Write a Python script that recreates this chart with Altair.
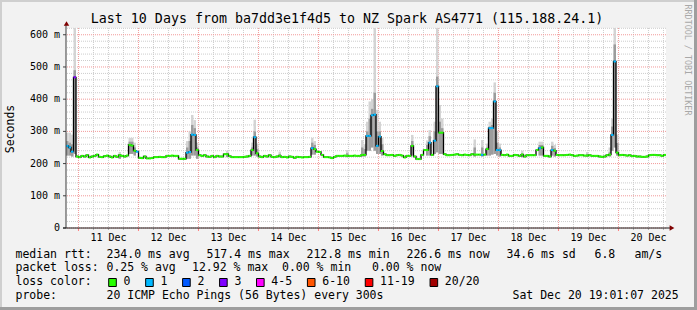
import altair as alt
import pandas as pd

FONT = "DejaVu Sans Mono"

# ---------------- text ----------------
title_text = "Last 10 Days from ba7dd3e1f4d5 to NZ Spark AS4771 (115.188.24.1)"
y_title = "Seconds"
watermark = "RRDTOOL / TOBI OETIKER"
start_time = "2025-12-10 19:01:07"
first_midnight = "2025-12-11 00:00:00"
day_labels = ["11 Dec", "12 Dec", "13 Dec", "14 Dec", "15 Dec",
              "16 Dec", "17 Dec", "18 Dec", "19 Dec", "20 Dec"]

y_ticks = [0, 100, 200, 300, 400, 500, 600]
y_tick_labels = ["0", "100 m", "200 m", "300 m", "400 m", "500 m", "600 m"]
y_max = 621
hours_total = 240

# ---------------- median rtt (ms), one value per hour, one row per 24 h ----------------
median_rows = [
    [255, 250, 237, 468, 222, 220, 224, 222, 226, 219, 222, 224, 228, 221, 220, 223, 225, 222, 219, 224, 221, 226, 224, 222],
    [225, 258, 256, 240, 237, 218, 217, 222, 216, 216, 217, 220, 220, 221, 220, 220, 224, 224, 225, 224, 224, 215, 215, 215],
    [234, 236, 290, 289, 242, 226, 224, 226, 222, 221, 224, 220, 224, 222, 222, 229, 229, 223, 220, 220, 220, 220, 220, 221],
    [222, 224, 242, 282, 232, 222, 220, 224, 222, 226, 221, 220, 222, 224, 220, 221, 219, 222, 221, 218, 221, 220, 219, 220],
    [220, 221, 248, 245, 237, 236, 227, 220, 220, 219, 217, 221, 224, 224, 224, 225, 224, 224, 224, 225, 224, 224, 227, 227],
    [286, 286, 350, 352, 255, 284, 239, 229, 226, 226, 227, 224, 226, 227, 225, 219, 224, 224, 255, 222, 214, 214, 227, 242],
    [242, 265, 227, 271, 440, 296, 296, 229, 226, 226, 227, 228, 229, 227, 226, 228, 227, 226, 229, 228, 228, 228, 227, 228],
    [245, 310, 310, 393, 242, 242, 227, 226, 228, 224, 224, 227, 226, 224, 228, 222, 226, 226, 226, 226, 242, 248, 250, 224],
    [224, 222, 242, 240, 227, 226, 226, 226, 227, 228, 226, 224, 225, 226, 226, 225, 225, 226, 224, 224, 224, 222, 221, 222],
    [226, 228, 289, 517, 234, 226, 227, 226, 225, 226, 223, 224, 222, 222, 221, 221, 222, 226, 227, 227, 226, 226, 224, 227],
]

# lost pings (of 20) per hour
loss_rows = [
    "111300000000000000000000",
    "000010000000000000000000",
    "111100000000000000000000",
    "000100000000000000000000",
    "001000000000000000000000",
    "111111000000000000000000",
    "010110000000000000000010",
    "011111000000000000000100",
    "001000000000000000000000",
    "001100000000000000000000",
]

# smoke (spread of the 20 pings) where visible
smoke_hour = [0, 1, 2, 3, 21, 25, 26, 27, 48, 49, 50, 51, 52, 64, 74, 75, 76, 85, 98, 99,
              112, 118, 119, 120, 121, 122, 123, 124, 125, 126, 138, 144, 145, 147, 148, 149, 150,
              163, 166, 168, 169, 170, 171, 172, 173, 182, 189, 190, 194, 195, 208, 217, 218, 219, 220]
smoke_lo = [225, 225, 222, 230, 215, 230, 230, 225, 215, 215, 225, 225, 215, 220, 225, 225, 222, 220, 228, 228,
            220, 222, 222, 240, 240, 250, 240, 230, 230, 225, 225, 225, 225, 230, 235, 230, 230,
            222, 222, 225, 225, 228, 230, 225, 222, 220, 225, 225, 225, 222, 222, 222, 240, 250, 225]
smoke_dark = [270, 265, 260, 490, 228, 268, 268, 250, 250, 270, 320, 310, 250, 232, 250, 300, 245, 230, 265, 258,
              232, 250, 245, 300, 340, 370, 420, 300, 300, 260, 270, 258, 285, 300, 470, 330, 310,
              250, 250, 250, 315, 320, 420, 265, 250, 232, 258, 258, 255, 248, 230, 235, 315, 570, 264]
smoke_hi = [296, 296, 290, 621, 236, 280, 280, 265, 270, 300, 351, 335, 265, 240, 265, 336, 262, 237, 280, 270,
            242, 273, 260, 330, 393, 400, 621, 367, 330, 280, 289, 272, 304, 330, 621, 382, 340,
            275, 273, 262, 330, 340, 452, 300, 262, 240, 268, 268, 268, 258, 236, 250, 340, 621, 290]

# ---------------- legend ----------------
loss_labels = ["0", "1", "2", "3", "4-5", "6-10", "11-19", "20/20"]
loss_upper = [0, 1, 2, 3, 5, 10, 19, 20]
loss_colors = ["#26ff00", "#00b8ff", "#0059ff", "#7e00ff", "#ff00ff", "#ff5500", "#ff0000", "#a10000"]

rtt_stats = ["median rtt:", "234.0 ms avg", "517.4 ms max", "212.8 ms min", "226.6 ms now",
             "34.6 ms sd", "6.8", "am/s"]
pl_stats = ["packet loss:", "0.25 % avg", "12.92 % max", "0.00 % min", "0.00 % now"]
loss_title = "loss color:"
probe_stats = ["probe:", "20 ICMP Echo Pings (56 Bytes) every 300s", "Sat Dec 20 19:01:07 2025"]

# ---------------- layout (page pixels) ----------------
PL, PT, W, H = 66, 28, 600, 200
PAGE_W, PAGE_H = 697, 310
rtt_x = [16, 107, 207, 307, 407, 507, 595, 635]
pl_x = [16, 107, 192.5, 282.5, 372.5]
probe_x = [16, 107, 513]
row_y = [254.5, 268, 282, 296]
box_x0, char_w = 108.7, 6.96

# ---------------- frames ----------------
median = [v for row in median_rows for v in row]
loss = [int(c) for c in "".join(loss_rows)]
n = len(median)


def loss_index(k):
    for i, u in enumerate(loss_upper):
        if k <= u:
            return i
    return len(loss_upper) - 1


df = pd.DataFrame({"h": list(range(n)), "h2": list(range(1, n + 1)), "med": median,
                   "col": [loss_colors[loss_index(k)] for k in loss]})
df_line = pd.concat([df[["h", "med"]], pd.DataFrame({"h": [n], "med": [median[-1]]})], ignore_index=True)
df_smoke = pd.DataFrame({"h": smoke_hour, "h2": [h + 1 for h in smoke_hour],
                         "lo": smoke_lo, "dark": smoke_dark, "hi": smoke_hi})

mid_off = (pd.Timestamp(first_midnight) - pd.Timestamp(start_time)) / pd.Timedelta(hours=1)
vg = []
k = 0
while mid_off + 6 * k <= hours_total:
    vg.append({"h": mid_off + 6 * k, "major": k % 4 == 0})
    k += 1
df_vg = pd.DataFrame(vg)
df_hg = pd.DataFrame({"v": list(range(0, y_max, 20))})
df_hg["major"] = df_hg["v"] % 100 == 0
df_days = pd.DataFrame({"h": [mid_off + 12 + 24 * i for i in range(len(day_labels))], "t": day_labels})
df_yt = pd.DataFrame({"v": y_ticks, "t": y_tick_labels})

texts = []
for s, x in zip(rtt_stats, rtt_x):
    texts.append({"t": s, "x": x - PL - 0.5, "y": row_y[0] - PT})
for s, x in zip(pl_stats, pl_x):
    texts.append({"t": s, "x": x - PL - 0.5, "y": row_y[1] - PT})
texts.append({"t": loss_title, "x": 16 - PL - 0.5, "y": row_y[2] - PT})
for s, x in zip(probe_stats, probe_x):
    texts.append({"t": s, "x": x - PL - 0.5, "y": row_y[3] - PT})
boxes = []
bx = box_x0
for lab, colr in zip(loss_labels, loss_colors):
    boxes.append({"x": bx - PL, "x2": bx + 7.6 - PL, "y": 278.5 - PT, "y2": 286.5 - PT, "c": colr})
    texts.append({"t": lab, "x": bx + 15.3 - PL - 0.5, "y": row_y[2] - PT})
    bx += 30 + char_w * len(lab)
df_text = pd.DataFrame(texts)
df_box = pd.DataFrame(boxes)
one = pd.DataFrame({"a": [0]})

xs = alt.Scale(domain=[0, hours_total], nice=False, zero=False)
ys = alt.Scale(domain=[0, y_max], nice=False, zero=False)
X = lambda f: alt.X(f, scale=xs, axis=None)
Y = lambda f: alt.Y(f, scale=ys, axis=None)

layers = []
# grid
layers.append(alt.Chart(df_hg[~df_hg.major]).mark_rule(color="#cdcdcd", strokeDash=[1, 1], strokeWidth=1).encode(y=Y("v:Q")))
layers.append(alt.Chart(df_vg[~df_vg.major]).mark_rule(color="#cdcdcd", strokeDash=[1, 1], strokeWidth=1).encode(x=X("h:Q")))
layers.append(alt.Chart(df_hg[df_hg.major]).mark_rule(color="#f29a9a", strokeDash=[1, 1], strokeWidth=1).encode(y=Y("v:Q")))
layers.append(alt.Chart(df_vg[df_vg.major]).mark_rule(color="#f29a9a", strokeDash=[1, 1], strokeWidth=1).encode(x=X("h:Q")))
# smoke
layers.append(alt.Chart(df_smoke).mark_rect(color="#d4d4d4").encode(x=X("h:Q"), x2="h2:Q", y=Y("lo:Q"), y2="hi:Q"))
layers.append(alt.Chart(df_smoke).mark_rect(color="#9c9c9c").encode(x=X("h:Q"), x2="h2:Q", y=Y("lo:Q"), y2="dark:Q"))
# median
layers.append(alt.Chart(df_line).mark_line(interpolate="step-after", color="#000000", strokeWidth=1.3).encode(x=X("h:Q"), y=Y("med:Q")))
layers.append(alt.Chart(df).mark_rule(strokeWidth=2, strokeCap="butt").encode(
    x=X("h:Q"), x2="h2:Q", y=Y("med:Q"), color=alt.Color("col:N", scale=None)))
# axis ticks
layers.append(alt.Chart(df_vg[df_vg.major]).mark_rule(color="#ff8080").encode(x=X("h:Q"), y=alt.value(H), y2=alt.value(H + 3)))
layers.append(alt.Chart(df_vg[~df_vg.major]).mark_rule(color="#b0b0b0").encode(x=X("h:Q"), y=alt.value(H), y2=alt.value(H + 2)))
layers.append(alt.Chart(df_yt).mark_rule(color="#404040").encode(y=Y("v:Q"), x=alt.value(-3), x2=alt.value(0)))
# axis lines + arrows
layers.append(alt.Chart(one).mark_rule(color="#3a3a3a", strokeWidth=1).encode(x=alt.value(0), y=alt.value(-4), y2=alt.value(H)))
layers.append(alt.Chart(one).mark_rule(color="#1a1a1a", strokeWidth=1).encode(x=alt.value(-3), x2=alt.value(W + 5), y=alt.value(H)))
layers.append(alt.Chart(one).mark_point(shape="triangle-up", filled=True, color="#7f0000", size=30, opacity=1).encode(
    x=alt.value(0.5), y=alt.value(-4.5)))
layers.append(alt.Chart(one).mark_point(shape="triangle-right", filled=True, color="#7f0000", size=30, opacity=1).encode(
    x=alt.value(W + 6), y=alt.value(H)))
# axis labels
layers.append(alt.Chart(df_days).mark_text(font=FONT, fontSize=10, color="#000000", baseline="middle", align="center").encode(
    x=X("h:Q"), y=alt.value(238 - PT), text="t:N"))
layers.append(alt.Chart(df_yt).mark_text(font=FONT, fontSize=10, color="#000000", baseline="middle", align="right").encode(
    y=Y("v:Q"), x=alt.value(-6), text="t:N"))
# titles
layers.append(alt.Chart(one).mark_text(font=FONT, fontSize=13.3, color="#000000", baseline="middle", align="center",
                                       text=title_text).encode(x=alt.value(347 - PL), y=alt.value(19 - PT)))
layers.append(alt.Chart(one).mark_text(font=FONT, fontSize=11.5, color="#000000", baseline="middle", align="center",
                                       angle=270, text=y_title).encode(x=alt.value(11 - PL), y=alt.value(129 - PT)))
layers.append(alt.Chart(one).mark_text(font=FONT, fontSize=8.4, color="#a8a8a8", baseline="middle", align="center",
                                       angle=90, text=watermark).encode(x=alt.value(688 - PL), y=alt.value(60 - PT)))
# legend
layers.append(alt.Chart(df_box).mark_rect(stroke="#000000", strokeWidth=1).encode(
    x=alt.X("x:Q", scale=None), x2="x2:Q", y=alt.Y("y:Q", scale=None), y2="y2:Q", fill=alt.Color("c:N", scale=None)))
layers.append(alt.Chart(df_text).mark_text(font=FONT, fontSize=11.5, color="#000000", baseline="middle", align="left").encode(
    x=alt.X("x:Q", scale=None), y=alt.Y("y:Q", scale=None), text="t:N"))
# frame shading
layers.append(alt.Chart(one).mark_rule(color="#cfcfcf", strokeWidth=2).encode(x=alt.value(1 - PL), y=alt.value(-PT), y2=alt.value(PAGE_H - PT)))
layers.append(alt.Chart(one).mark_rule(color="#cfcfcf", strokeWidth=2).encode(y=alt.value(1 - PT), x=alt.value(-PL), x2=alt.value(PAGE_W - PL)))
layers.append(alt.Chart(one).mark_rule(color="#9e9e9e", strokeWidth=3).encode(x=alt.value(PAGE_W - 1.5 - PL), y=alt.value(-PT), y2=alt.value(PAGE_H - PT)))
layers.append(alt.Chart(one).mark_rule(color="#9e9e9e", strokeWidth=3).encode(y=alt.value(PAGE_H - 1.5 - PT), x=alt.value(-PL), x2=alt.value(PAGE_W - PL)))

chart = alt.layer(*layers).properties(
    width=W, height=H,
    autosize=alt.AutoSizeParams(type="none"),
    padding={"left": PL, "top": PT, "right": PAGE_W - PL - W, "bottom": PAGE_H - PT - H},
    background="#f2f2f2",
).configure_view(fill="#ffffff", stroke=None)

chart.save("out.html", embed_options={"renderer": "svg", "actions": False})
